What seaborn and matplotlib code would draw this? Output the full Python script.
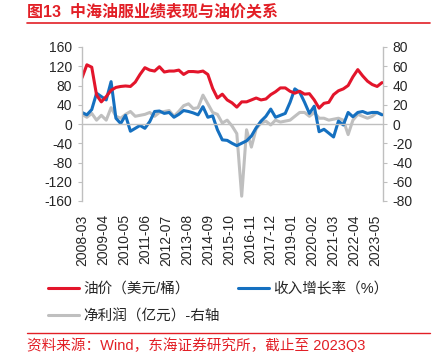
import matplotlib
matplotlib.use("Agg")
import matplotlib.pyplot as plt
import matplotlib.dates as mdates
from matplotlib.lines import Line2D
import pandas as pd
import seaborn as sns

# quarterly data, 2008Q1 .. 2023Q3
oil_price = [96, 123, 118, 60, 46, 57, 70, 76, 78, 79, 78, 87, 103, 117, 112, 110,
             119, 108, 110, 110, 112, 103, 109, 109, 108, 110, 103, 74, 54, 62, 50, 44,
             35, 46, 46, 50, 54, 50, 52, 61, 67, 75, 75, 68, 64, 68, 62, 63,
             50, 33, 43, 45, 61, 69, 73, 80, 98, 113, 100, 89, 82, 78, 86]
revenue_growth = [24, 19, 30, 64, 57, 50, 88, 12, 1, 18, -15, -9, -3, -9, 5, 26,
                  27, 22, 24, 14, 20, 28, 26, 23, 19, 36, 14, 17, -12, -33, -34, -40,
                  -45, -40, -35, -25, -8, 6, 16, 31, 14, 18, 22, 45, 73, 66, 45, 22,
                  37, -16, -11, -19, -27, 6, -2, 24, 15, 24, 26, 22, 24, 24, 19]
net_profit = [10, 7, 11, 4, 9, 4, 17, 8, 6, 10, 13, 8, 9, 10, 12, 8,
              12, 13, 14, 8, 13, 19, 21, 16, 17, 30, 21, 12, 10, 1, 4, -2,
              -10, -75, -6, -24, -5, 1, 3, -1, 4, 2, 3, 4, 8, 12, 12, 8,
              12, 6, 6, 4, 5, 6, 4, -11, 4, 10, 8, 6, 8, 12, 10]
dates = pd.date_range("2008-03-01", periods=len(oil_price), freq="3MS")
tick_dates = pd.date_range("2008-03-01", periods=15, freq="13MS")

df = pd.DataFrame({"date": dates, "oil": oil_price,
                   "rev": revenue_growth, "profit": net_profit})

RED = "#E3152B"
BLUE = "#1570C0"
GRAY = "#BFBFBF"

sns.set_style("white")
plt.rcParams["font.family"] = ["Liberation Sans", "Noto Sans CJK SC"]
plt.rcParams["axes.unicode_minus"] = False

fig = plt.figure(figsize=(4.43, 3.52), dpi=100)
ax = fig.add_axes([82 / 443, 1 - 201 / 352, 301 / 443, 154 / 352])
ax2 = ax.twinx()

sns.lineplot(data=df, x="date", y="profit", ax=ax2, color=GRAY, lw=2.2)
sns.lineplot(data=df, x="date", y="rev", ax=ax, color=BLUE, lw=2.2)
sns.lineplot(data=df, x="date", y="oil", ax=ax, color=RED, lw=2.2)

ax.set_zorder(ax2.get_zorder() + 1)
ax.patch.set_visible(False)

ax.set_ylim(-160, 160)
ax.set_yticks(range(-160, 161, 40))
ax2.set_ylim(-80, 80)
ax2.set_yticks(range(-80, 81, 20))
ax.set_xticks(tick_dates)
ax.xaxis.set_major_formatter(mdates.DateFormatter("%Y-%m"))
ax.set_xlim(pd.Timestamp("2008-03-01"), pd.Timestamp("2023-09-20"))

for a in (ax, ax2):
    a.set_xlabel("")
    a.set_ylabel("")
    for s in a.spines.values():
        s.set_color(GRAY)
        s.set_linewidth(1)
    a.spines["top"].set_visible(False)
ax.spines["right"].set_visible(False)
ax2.spines["left"].set_visible(False)
ax2.spines["bottom"].set_visible(False)
ax.spines["bottom"].set_position(("data", 0))

ax.tick_params(axis="y", direction="out", length=3, color=GRAY, labelsize=10, pad=4)
ax2.tick_params(axis="y", direction="out", length=3, color=GRAY, labelsize=10, pad=4)
ax.tick_params(axis="x", direction="out", length=3, color=GRAY, labelsize=10,
               labelrotation=90, pad=62)

handles = [Line2D([], [], color=RED, lw=2.2),
           Line2D([], [], color=GRAY, lw=2.2),
           Line2D([], [], color=BLUE, lw=2.2)]
labels = ["油价（美元/桶）", "净利润（亿元）-右轴", "收入增长率（%）"]
fig.legend(handles, labels, ncol=2, loc="upper left", bbox_to_anchor=(48 / 443, 1 - 282 / 352),
           frameon=False, fontsize=10.5, handlelength=2.1, handletextpad=0.3,
           columnspacing=1.3, labelspacing=0.9, borderpad=0, borderaxespad=0)

fig.text(27 / 443, 1 - 11 / 352, "图13  中海油服业绩表现与油价关系", color="#E21F26",
         fontsize=11.5, fontweight="bold", va="center", ha="left")
fig.add_artist(Line2D([27 / 443, 430 / 443], [1 - 23 / 352] * 2, color="#E21F26", lw=1.2))
fig.add_artist(Line2D([27 / 443, 430 / 443], [1 - 333 / 352] * 2, color="#E21F26", lw=1))
fig.text(27 / 443, 1 - 345 / 352, "资料来源：Wind，东海证券研究所，截止至 2023Q3", color="#E21F26",
         fontsize=10.5, va="center", ha="left")

fig.savefig("out.png", dpi=100)
